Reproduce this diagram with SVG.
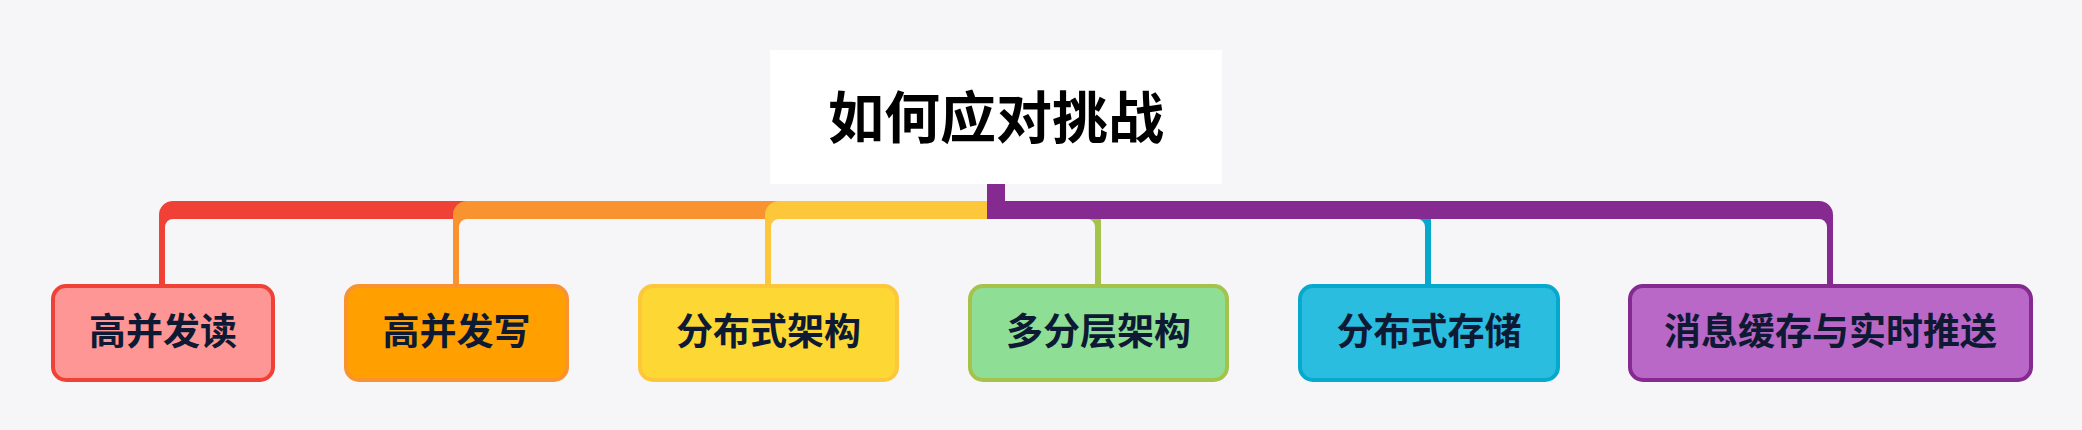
<svg xmlns="http://www.w3.org/2000/svg" width="2082" height="430" viewBox="0 0 2082 430">
  <style>
    .lbl { font-family: "Noto Sans CJK SC", "Noto Sans", sans-serif; font-weight: 700; font-size: 37px; fill: #0E1A33; text-anchor: middle; }
    .title { font-family: "Noto Sans CJK SC", "Noto Sans", sans-serif; font-weight: 700; font-size: 56px; fill: #000000; text-anchor: middle; }
    .node { stroke-width: 4; }
  </style>
  <rect x="0" y="0" width="2082" height="430" fill="#F6F6F8"/>
  <g id="connectors">
    <path d="M 996 201 H 173 A 14 14 0 0 0 159 215 V 288 H 165 V 227 A 8 8 0 0 1 173 219 H 996 Z" fill="#EF4136"/>
    <path d="M 996 201 H 467 A 14 14 0 0 0 453 215 V 288 H 459 V 227 A 8 8 0 0 1 467 219 H 996 Z" fill="#F8932F"/>
    <path d="M 996 201 H 779 A 14 14 0 0 0 765 215 V 288 H 771 V 227 A 8 8 0 0 1 779 219 H 996 Z" fill="#FCC73A"/>
    <path d="M 996 201 H 1087 A 14 14 0 0 1 1101 215 V 288 H 1095 V 227 A 8 8 0 0 0 1087 219 H 996 Z" fill="#A5C34A"/>
    <path d="M 996 201 H 1417 A 14 14 0 0 1 1431 215 V 288 H 1425 V 227 A 8 8 0 0 0 1417 219 H 996 Z" fill="#05A9CE"/>
    <path d="M 987 184 H 1005 V 201 H 1819 A 14 14 0 0 1 1833 215 V 288 H 1827 V 227 A 8 8 0 0 0 1819 219 H 987 Z" fill="#842A91"/>
  </g>
  <g id="root">
    <rect x="770" y="50" width="452" height="134" fill="#FFFFFF"/>
    <text class="title" x="996" y="138">如何应对挑战</text>
  </g>
  <g id="node-read">
    <rect class="node" x="53" y="286" width="220" height="94" rx="13" fill="#FF9696" stroke="#EF4136"/>
    <text class="lbl" x="163" y="345">高并发读</text>
  </g>
  <g id="node-write">
    <rect class="node" x="346" y="286" width="221" height="94" rx="13" fill="#FFA000" stroke="#F8932F"/>
    <text class="lbl" x="456.5" y="345">高并发写</text>
  </g>
  <g id="node-distributed-arch">
    <rect class="node" x="640" y="286" width="257" height="94" rx="13" fill="#FDD733" stroke="#FCC73A"/>
    <text class="lbl" x="768.5" y="345">分布式架构</text>
  </g>
  <g id="node-layered-arch">
    <rect class="node" x="970" y="286" width="257" height="94" rx="13" fill="#8FDE96" stroke="#A5C34A"/>
    <text class="lbl" x="1098.5" y="345">多分层架构</text>
  </g>
  <g id="node-distributed-storage">
    <rect class="node" x="1300" y="286" width="258" height="94" rx="13" fill="#2BBDE0" stroke="#05A9CE"/>
    <text class="lbl" x="1429" y="345">分布式存储</text>
  </g>
  <g id="node-message">
    <rect class="node" x="1630" y="286" width="401" height="94" rx="13" fill="#B968C7" stroke="#842A91"/>
    <text class="lbl" x="1830.5" y="345">消息缓存与实时推送</text>
  </g>
</svg>
